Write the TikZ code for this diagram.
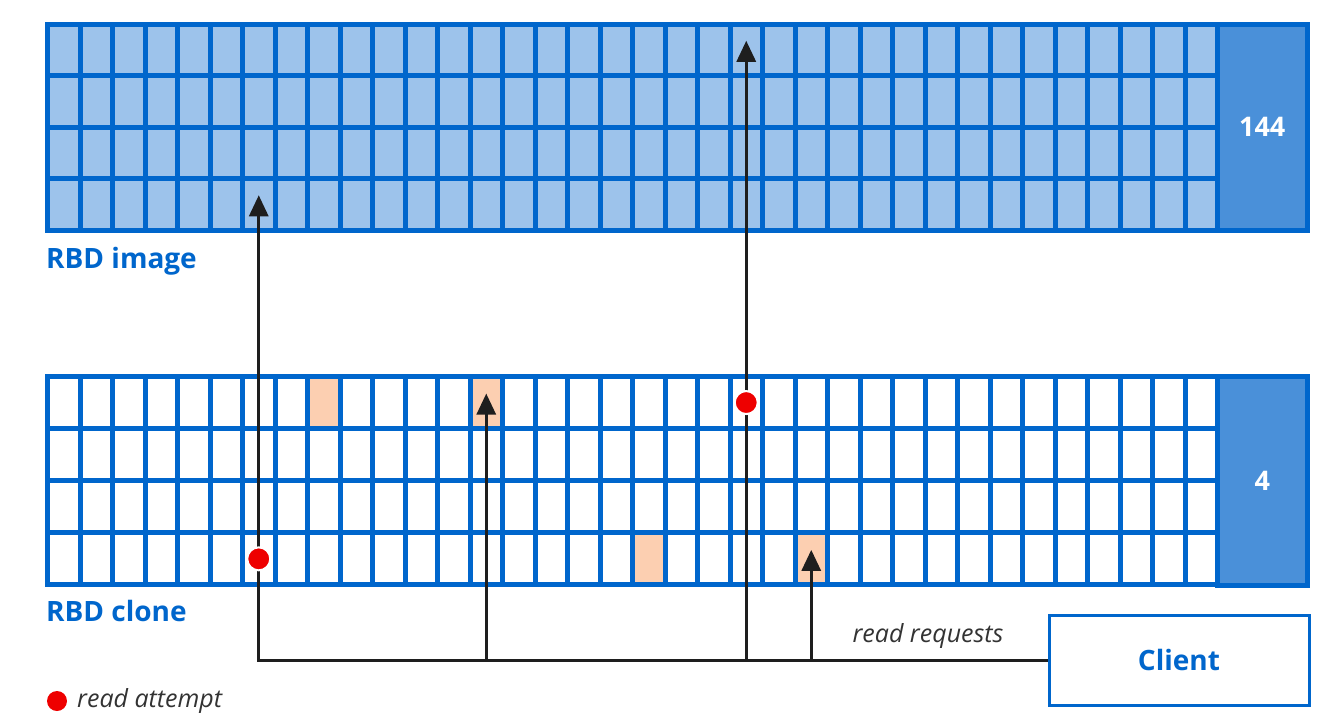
\documentclass[tikz,border=0pt]{standalone}
\usepackage{fontspec}
\setmainfont{Open Sans}
\usepackage{tikz}
\usetikzlibrary{arrows.meta,calc}

\definecolor{gridblue}{HTML}{0066CC}
\definecolor{cellblue}{HTML}{9DC3EB}
\definecolor{tagblue}{HTML}{4A90D9}
\definecolor{peach}{HTML}{FCCFB1}
\definecolor{attempt}{HTML}{EE0000}
\definecolor{wire}{HTML}{1E1E1E}

\begin{document}
\begin{tikzpicture}[
  x=1pt, y=-1pt,
  cell/.style={draw=gridblue,line width=5pt,minimum width=32.5pt,minimum height=51.5pt,inner sep=0pt,outer sep=0pt},
  imgcell/.style={cell,fill=cellblue},
  clncell/.style={cell,fill=white,minimum height=52.1pt},
  tag/.style={draw=gridblue,line width=5pt,fill=tagblue,text=white,font=\fontsize{27}{32}\selectfont\bfseries,inner sep=0pt,minimum width=89.5pt},
  title/.style={text=gridblue,font=\fontsize{28}{34}\selectfont\bfseries,anchor=west,inner sep=0pt},
  note/.style={text=black!80,font=\fontsize{25}{29}\selectfont\itshape,inner sep=0pt},
  req/.style={draw=wire,line width=3pt,-{Triangle[width=19pt,length=21pt]}},
  dot/.style={circle,fill=attempt,draw=white,line width=2pt,minimum size=23pt,inner sep=0pt}
]
  \useasboundingbox (0,0) rectangle (1330,718);

  % image and clone grids
  \foreach \r in {1,...,4}
    \foreach \c in {1,...,36}
      \node[imgcell] (img-\r-\c) at ({47.5+32.5*(\c-0.5)},{24+51.5*(\r-0.5)}) {};
  \foreach \r in {1,...,4}
    \foreach \c in {1,...,36}
      \node[clncell] (cln-\r-\c) at ({47.5+32.5*(\c-0.5)},{376.5+52.1*(\r-0.5)}) {};
  \foreach \r/\c in {1/9,1/14,4/19,4/24}
    \node[clncell,fill=peach] (hit-\r-\c) at (cln-\r-\c) {};

  \node[tag,minimum height=206pt]   (imgsize) at (1262.25,127)   {144};
  \node[tag,minimum height=208.5pt] (clnsize) at (1262.25,480.75) {4};

  \node[title] (imglabel) at (46,261) {RBD image};
  \node[title] (clnlabel) at (46,611) {RBD clone};

  \node[draw=gridblue,line width=3pt,minimum width=260pt,minimum height=90pt,inner sep=0pt,
        text=gridblue,font=\fontsize{28}{32}\selectfont\bfseries] (client) at (1179,660) {Client};

  % read requests
  \draw[req] (client.west) -| ([yshift=9pt]img-4-7.center);
  \draw[req] (client.west -| cln-1-14) -- ([yshift=9pt]cln-1-14.center);
  \draw[req] (client.west -| img-1-22) -- ([yshift=9pt]img-1-22.center);
  \draw[req] (client.west -| cln-4-24) -- ([yshift=9pt]cln-4-24.center);
  \node[note] (reqlabel) at (928,636) {read requests};

  \node[dot] (miss-a) at (cln-4-7)  {};
  \node[dot] (miss-b) at (cln-1-22) {};

  % legend
  \node[dot,draw=none,minimum size=20pt] (key) at (57,701) {};
  \node[note,anchor=west] (keylabel) at (77,701) {read attempt};
\end{tikzpicture}
\end{document}
